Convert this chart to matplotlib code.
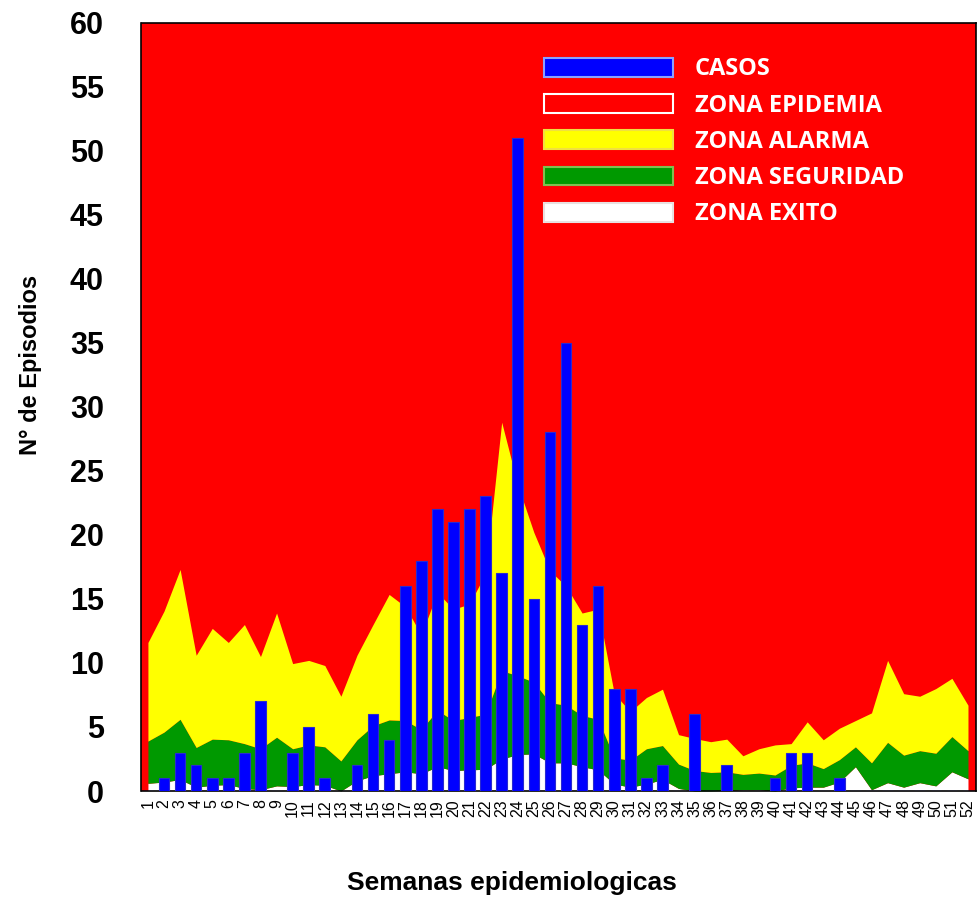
import matplotlib
matplotlib.use("Agg")
import matplotlib.pyplot as plt
from matplotlib.patches import Patch

# semanas epidemiologicas 1..52
semanas = list(range(1, 53))

# casos por semana
casos = [0, 1, 3, 2, 1, 1, 3, 7, 0, 3, 5, 1, 0, 2, 6, 4, 16, 18, 22, 21,
         22, 23, 17, 51, 15, 28, 35, 13, 16, 8, 8, 1, 2, 0, 6, 0, 2, 0, 0, 1,
         3, 3, 0, 1, 0, 0, 0, 0, 0, 0, 0, 0]

# limites superiores de cada zona (canal endemico)
limite_exito = [0.6, 0.7, 0.9, 0.3, 0.45, 0.5, 0.2, 0.1, 0.4, 0.35, 0.5, 0.45, 0.0,
                0.8, 1.2, 1.35, 1.5, 1.35, 1.9, 1.6, 1.65, 1.7, 2.5, 2.85, 2.9, 2.2,
                2.2, 1.9, 1.65, 0.55, 0.3, 0.55, 0.9, 0.2, 0.0, 0.0, 0.05, 0.1, 0.1,
                0.0, 0.25, 0.3, 0.3, 0.7, 1.9, 0.1, 0.65, 0.3, 0.65, 0.4, 1.5, 0.95]
limite_seguridad = [3.9, 4.6, 5.6, 3.4, 4.05, 4.0, 3.7, 3.3, 4.2, 3.3, 3.6, 3.45, 2.35,
                    4.0, 5.1, 5.55, 5.5, 4.8, 6.3, 5.5, 5.75, 6.0, 9.4, 9.0, 8.5, 6.9,
                    6.7, 5.9, 5.6, 2.6, 2.4, 3.3, 3.55, 2.1, 1.6, 1.45, 1.5, 1.3, 1.4,
                    1.25, 2.0, 2.2, 1.75, 2.45, 3.45, 2.2, 3.8, 2.8, 3.15, 2.95, 4.25, 3.15]
limite_alarma = [11.6, 14.05, 17.3, 10.6, 12.7, 11.6, 13.0, 10.5, 13.9, 9.95, 10.2, 9.8, 7.4,
                 10.6, 13.0, 15.35, 14.4, 12.2, 15.5, 14.2, 14.6, 17.0, 28.8, 23.9, 20.2, 17.2,
                 16.0, 13.9, 14.2, 7.6, 6.2, 7.3, 7.95, 4.4, 4.1, 3.85, 4.05, 2.75, 3.3,
                 3.6, 3.7, 5.4, 4.0, 4.9, 5.5, 6.1, 10.2, 7.6, 7.4, 8.0, 8.8, 6.7]

etiquetas = ["CASOS", "ZONA EPIDEMIA", "ZONA ALARMA", "ZONA SEGURIDAD", "ZONA EXITO"]

ROJO = "#ff0000"
AMARILLO = "#ffff00"
VERDE = "#009900"
AZUL = "#0000ff"

plt.rcParams['font.family'] = ['Liberation Sans', 'DejaVu Sans']

fig = plt.figure(figsize=(9.78, 8.97), dpi=100)
ax = fig.add_axes([141.5 / 978, 1 - 791 / 897, 835 / 978, 768.3 / 897])
ax.set_facecolor(ROJO)

# zonas del canal endemico
ax.fill_between(semanas, 0, limite_exito, color="white", linewidth=0)
ax.fill_between(semanas, limite_exito, limite_seguridad, color=VERDE, linewidth=0)
ax.fill_between(semanas, limite_seguridad, limite_alarma, color=AMARILLO, linewidth=0)

# casos
ax.bar(semanas, casos, width=0.66, color=AZUL, edgecolor="#2a2ad0", linewidth=0.8, zorder=3)

ax.set_xlim(0.6, 52.53)
ax.set_ylim(0, 60)
ax.set_yticks(range(0, 61, 5))
ax.set_xticks(semanas)
ax.set_xticklabels([str(s) for s in semanas], rotation=90, fontsize=11.5)
ax.tick_params(axis="y", length=0, pad=27, labelsize=22)
ax.tick_params(axis="x", length=0, pad=6)
for t in ax.get_yticklabels():
    t.set_fontweight("bold")
for s in ax.spines.values():
    s.set_color("black")
    s.set_linewidth(1.2)

ax.set_xlabel("Semanas epidemiologicas", fontsize=19, fontweight="bold")
ax.xaxis.set_label_coords(0.444, -0.104)
ax.set_ylabel("N° de Episodios", fontsize=17, fontweight="bold")
ax.yaxis.set_label_coords(-0.119, 0.555)

# leyenda
manijas = [
    Patch(facecolor=AZUL, edgecolor="#8aa0ff", linewidth=1.5),
    Patch(facecolor=ROJO, edgecolor="white", linewidth=1.5),
    Patch(facecolor=AMARILLO, edgecolor="#f0e040", linewidth=1.5),
    Patch(facecolor=VERDE, edgecolor="#80c050", linewidth=1.5),
    Patch(facecolor="white", edgecolor="#e8e0e0", linewidth=1.5),
]
leg = ax.legend(manijas, etiquetas, loc="upper left", bbox_to_anchor=(0.482, 0.955),
                frameon=False, borderaxespad=0, borderpad=0,
                handlelength=5.45, handleheight=0.85, handletextpad=0.93,
                labelspacing=0.52,
                prop={"family": "Open Sans", "weight": "bold", "size": 17})
for t in leg.get_texts():
    t.set_color("white")

fig.savefig("out.png", dpi=100)
